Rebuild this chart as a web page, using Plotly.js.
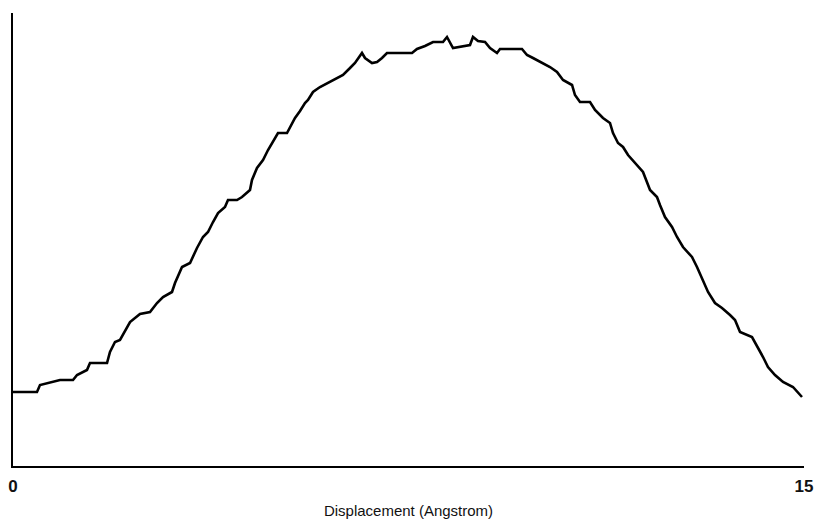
<!DOCTYPE html>
<html>
<head>
<meta charset="utf-8">
<script src="https://cdn.plot.ly/plotly-3.0.1.min.js"></script>
<style>html,body{margin:0;padding:0;background:#fff;}#chart{width:817px;height:524px;}</style>
</head>
<body>
<div id="chart"></div>
<script>
// Displacement (Angstrom)
const displacement = [0,0.455,0.512,0.759,0.891,1.138,1.214,1.403,1.460,1.783,1.839,1.934,2.029,2.219,2.408,2.598,2.731,2.845,3.015,3.072,3.205,3.357,3.489,3.603,3.698,3.793,3.888,4.020,4.077,4.248,4.343,4.494,4.532,4.627,4.741,4.836,4.930,5.025,5.196,5.253,5.348,5.443,5.537,5.594,5.689,5.822,6.068,6.258,6.391,6.485,6.618,6.675,6.808,6.903,6.998,7.092,7.567,7.661,7.813,7.965,8.154,8.230,8.344,8.477,8.666,8.723,8.818,8.951,9.046,9.178,9.235,9.652,9.747,9.861,10.051,10.183,10.316,10.430,10.601,10.657,10.752,10.942,11.037,11.188,11.321,11.378,11.473,11.568,11.663,11.795,11.947,12.080,12.212,12.269,12.364,12.497,12.592,12.705,12.876,12.971,13.085,13.180,13.312,13.445,13.597,13.692,13.787,14.014,14.223,14.317,14.450,14.602,14.791,14.962];
// Energy (arbitrary units, no scale shown)
const energy = [74,74,81,84,86,86,91,96,103,103,114,124,126,144,152,154,163,169,174,183,199,203,218,229,234,244,253,259,266,266,269,276,286,298,306,316,324,333,333,339,348,355,363,366,374,379,386,391,398,403,413,408,403,404,408,413,413,417,420,424,424,429,418,419,421,429,425,424,418,413,417,417,411,408,403,399,394,386,381,371,364,364,356,348,343,333,323,319,311,303,294,276,269,261,249,239,229,219,209,199,186,174,163,158,151,146,134,129,109,99,91,84,79,69];
const tickVals = [0, 15];
const tickText = ['0', '15'];
const xTitle = 'Displacement (Angstrom)';

Plotly.newPlot('chart', [{
  x: displacement, y: energy, type: 'scatter', mode: 'lines',
  line: {color: '#000', width: 2.6, shape: 'linear'},
  hoverinfo: 'skip'
}], {
  width: 817, height: 524,
  margin: {l: 13, r: 13, t: 13, b: 58, pad: 0},
  paper_bgcolor: '#fff', plot_bgcolor: '#fff',
  showlegend: false,
  xaxis: {
    range: [0, 15], showgrid: false, zeroline: false,
    showline: true, linecolor: '#000', linewidth: 2,
    ticks: '', tickmode: 'array', tickvals: tickVals, ticktext: tickText,
    tickfont: {family: 'Liberation Sans, Arial, sans-serif', size: 17, color: '#111', weight: 'bold'},
    ticklabelstandoff: 4,
    title: {text: xTitle, font: {family: 'Liberation Sans, Arial, sans-serif', size: 15, color: '#111'}, standoff: 10},
    automargin: false, fixedrange: true
  },
  yaxis: {
    range: [0, 453], showgrid: false, zeroline: false,
    showline: true, linecolor: '#000', linewidth: 2,
    ticks: '', showticklabels: false, automargin: false, fixedrange: true
  }
}, {displayModeBar: false, staticPlot: true});
</script>
</body>
</html>
